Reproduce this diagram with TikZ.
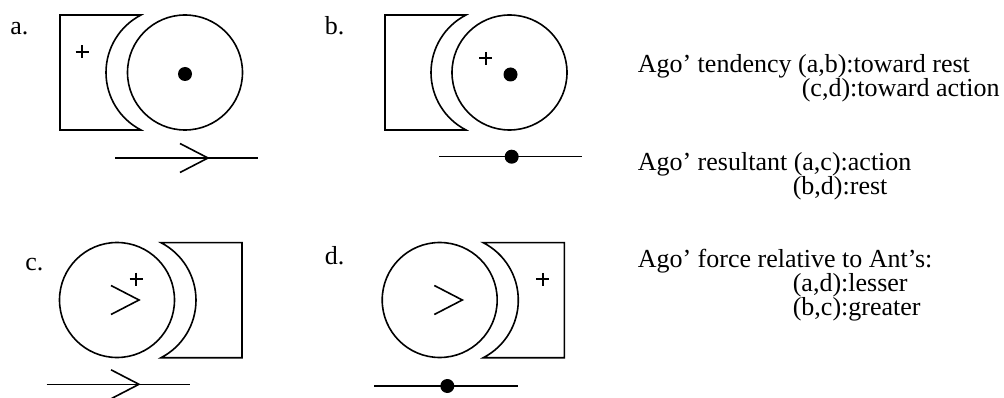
\documentclass[tikz,border=0pt]{standalone}
\usepackage{fontspec}
\setmainfont{Liberation Serif}
\setlength{\lineskiplimit}{-20pt}
\begin{document}
\begin{tikzpicture}[x=1pt,y=-1pt,line width=1.6pt,
  txt/.style={font=\fontsize{26}{28}\selectfont,anchor=base west,inner sep=0pt},
  legend/.style={font=\fontsize{26}{24}\selectfont,anchor=base west,inner sep=0pt,align=left},
  wheel/.style={circle,draw,minimum size=115pt,inner sep=0pt},
  blob/.style={circle,fill,minimum size=14pt,inner sep=0pt},
  antblock/.pic={
    \draw (-81,0) -- (0,0) .. controls (-21.51,11.11) and (-35,33.29) .. (-35,57.5)
          .. controls (-35,81.71) and (-21.51,103.89) .. (0,115) -- (-81,115) -- cycle;
  },
  chevron/.pic={
    \draw (-28,-14.5) -- (0,0) -- (-28,14.5);
  },
  plusmark/.pic={
    \draw[line width=1.8pt] (-6.5,0) -- (6.5,0) (0,-6.5) -- (0,6.5);
  }]
\useasboundingbox (0,0) rectangle (1004,398);

% panel a
\node[txt] (la) at (9.5,35) {a.};
\pic at (141,15) {antblock};
\node[wheel] (ca) at (185,72.5) {};
\node[blob] (da) at (185,74) {};
\pic at (82,52) {plusmark};
\coordinate (a1) at (115,158);
\coordinate (a2) at (258,158);
\draw (a1) -- (a2);
\pic at (208,158) {chevron};

% panel b
\node[txt] (lb) at (324,34.3) {b.};
\pic at (466,15) {antblock};
\node[wheel] (cb) at (509.5,72.5) {};
\node[blob] (db) at (510.5,74.5) {};
\pic at (485.7,58.3) {plusmark};
\coordinate (b1) at (439,156.7);
\coordinate (b2) at (582,156.7);
\draw (b1) -- (b2);
\node[blob] (eb) at (511.7,156.7) {};

% panel c
\node[txt] (lc) at (24.5,270.7) {c.};
\pic[xscale=-1] at (161,242.7) {antblock};
\node[wheel] (cc) at (117,300) {};
\pic at (139,300) {chevron};
\pic at (136,279) {plusmark};
\coordinate (c1) at (46.7,384.3);
\coordinate (c2) at (190,384.3);
\draw (c1) -- (c2);
\pic at (139,384.3) {chevron};

% panel d
\node[txt] (ld) at (324,264.3) {d.};
\pic[xscale=-1] at (483.3,242.7) {antblock};
\node[wheel] (cd) at (439.7,300) {};
\pic at (462.3,300) {chevron};
\pic at (542.7,279.3) {plusmark};
\coordinate (d1) at (374,386);
\coordinate (d2) at (517.7,386);
\draw (d1) -- (d2);
\node[blob] (ed) at (447.3,386) {};

% legend text (anchor is the baseline of the last line)
\node[legend] (t1) at (637,97) {Ago’ tendency (a,b):toward rest\\\hspace*{164pt}(c,d):toward action};
\node[legend] (t3) at (637,195) {Ago’ resultant (a,c):action\\\hspace*{155pt}(b,d):rest};
\node[legend] (t5) at (637,315) {Ago’ force relative to Ant’s:\\\hspace*{155pt}(a,d):lesser\\\hspace*{155pt}(b,c):greater};
\end{tikzpicture}
\end{document}
